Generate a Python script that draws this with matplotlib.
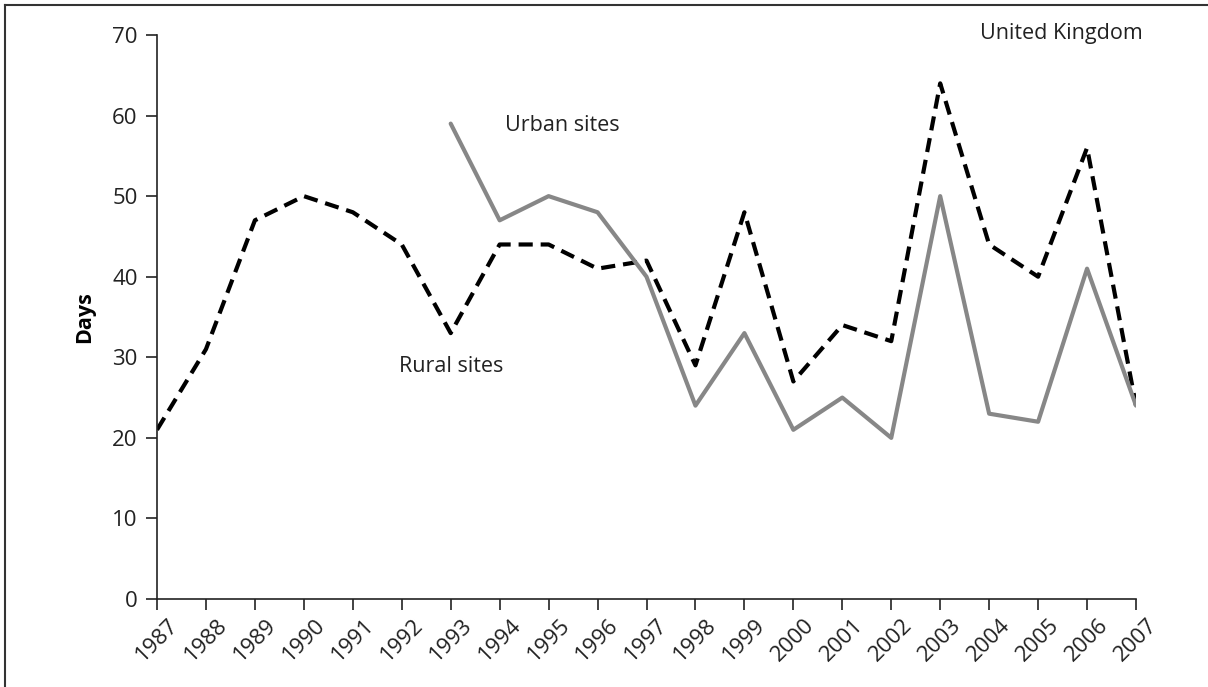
import matplotlib.pyplot as plt
import matplotlib.transforms as mtransforms
from matplotlib.lines import Line2D

plt.rcParams['font.family'] = ['Open Sans', 'DejaVu Sans']

years = list(range(1987, 2008))
rural = [21, 31, 47, 50, 48, 44, 33, 44, 44, 41, 42, 29, 48, 27, 34, 32, 64, 44, 40, 56, 24]
urban_years = list(range(1993, 2008))
urban = [59, 47, 50, 48, 40, 24, 33, 21, 25, 20, 50, 23, 22, 41, 24]

fig = plt.figure(figsize=(12.08, 6.87), dpi=100)
ax = fig.add_axes([157 / 1208, 1 - 599 / 687, (1136 - 157) / 1208, (599 - 35) / 687])

ax.plot(years, rural, color='black', lw=3.0, linestyle=(0, (3.4, 1.9)))
ax.plot(urban_years, urban, color='#878787', lw=3.0, solid_capstyle='round', solid_joinstyle='round')

ax.set_xlim(1987, 2007)
ax.set_ylim(0, 70)
ax.set_yticks(range(0, 71, 10))
ax.set_xticks(years)
ax.set_xticklabels([str(y) for y in years], rotation=45, ha='center', va='top')
shift = mtransforms.ScaledTranslation(8 / 100, -3 / 100, fig.dpi_scale_trans)
for lab in ax.get_xticklabels():
    lab.set_transform(lab.get_transform() + shift)

for s in ['top', 'right']:
    ax.spines[s].set_visible(False)
for s in ['left', 'bottom']:
    ax.spines[s].set_linewidth(1.2)
    ax.spines[s].set_color('#222222')
ax.tick_params(axis='both', direction='out', length=8, width=1.2, color='#222222',
               labelsize=16, labelcolor='#222222')
ax.tick_params(axis='y', pad=6)
ax.tick_params(axis='x', pad=3)

ax.set_ylabel('Days', fontsize=15.5, fontweight='bold', labelpad=12)

ax.text(1991.95, 28.8, 'Rural sites', fontsize=15.5, color='#222222', va='center')
ax.text(1994.1, 58.8, 'Urban sites', fontsize=15.5, color='#222222', va='center')
fig.text(1061 / 1208, 1 - 33 / 687, 'United Kingdom', fontsize=15.5, color='#222222',
         ha='center', va='center')

# outer frame (left and top edges only)
fig.add_artist(Line2D([5 / 1208, 5 / 1208], [0, 1 - 5 / 687], transform=fig.transFigure,
                      color='#333333', lw=1.5))
fig.add_artist(Line2D([5 / 1208, 1], [1 - 5 / 687, 1 - 5 / 687], transform=fig.transFigure,
                      color='#333333', lw=1.5))

fig.savefig('out.png', dpi=100)
